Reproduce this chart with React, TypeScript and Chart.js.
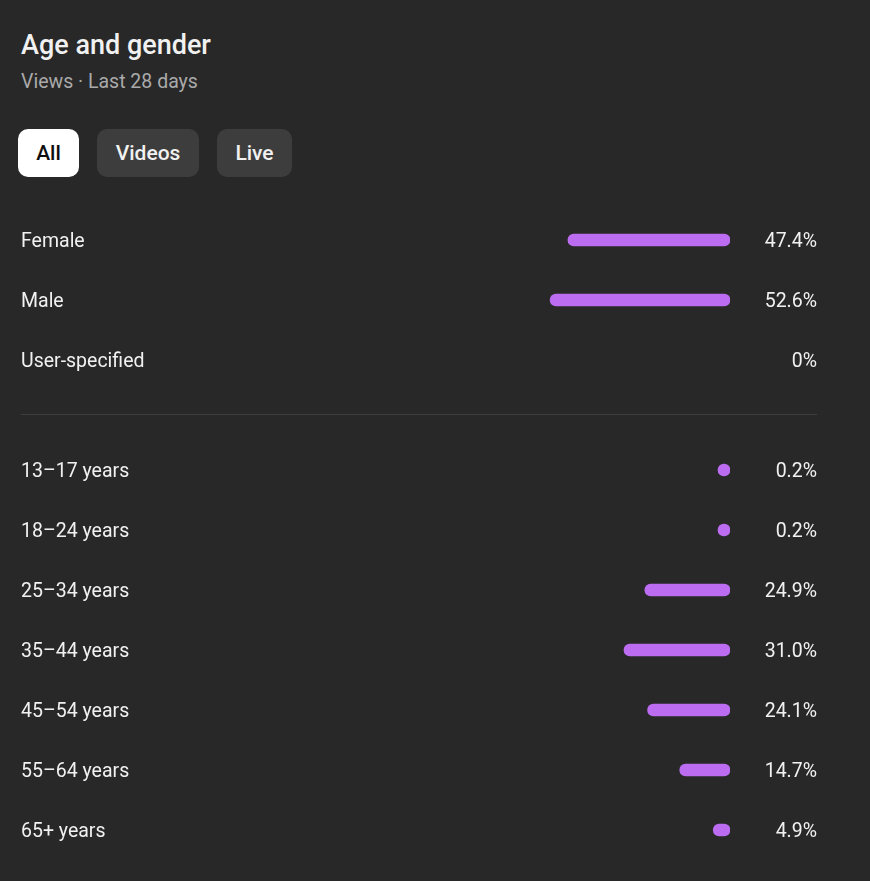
import React, { useEffect, useRef } from "react";
import { Chart, registerables } from "chart.js";
Chart.register(...registerables);

const genderLabels = ["Female", "Male", "User-specified"];
const genderValues = [47.4, 52.6, 0];
const genderText = ["47.4%", "52.6%", "0%"];

const ageLabels = ["13–17 years", "18–24 years", "25–34 years", "35–44 years", "45–54 years", "55–64 years", "65+ years"];
const ageValues = [0.2, 0.2, 24.9, 31.0, 24.1, 14.7, 4.9];
const ageText = ["0.2%", "0.2%", "24.9%", "31.0%", "24.1%", "14.7%", "4.9%"];

const tabs = ["All", "Videos", "Live"];
const tabLeft = [18, 97, 217];
const tabWidth = [61, 102, 75];

const PURPLE = "#bb6cf0";
const FONT = "Roboto, 'Noto Sans', sans-serif";

function BarBlock({ labels, values, texts, top, height }: { labels: string[]; values: number[]; texts: string[]; top: number; height: number }) {
  const ref = useRef<HTMLCanvasElement>(null);
  useEffect(() => {
    const textPlugin = {
      id: "rowText",
      afterDatasetsDraw(chart: any) {
        const ctx = chart.ctx;
        const meta = chart.getDatasetMeta(0);
        ctx.save();
        ctx.fillStyle = "#f1f1f1";
        ctx.font = `19.5px ${FONT}`;
        ctx.textBaseline = "alphabetic";
        meta.data.forEach((el: any, i: number) => {
          ctx.textAlign = "left";
          ctx.fillText(labels[i], 21, el.y + 7);
          ctx.textAlign = "right";
          ctx.fillText(texts[i], 817, el.y + 7);
        });
        ctx.restore();
      },
    };
    const chart = new Chart(ref.current!, {
      type: "bar",
      data: {
        labels,
        datasets: [
          {
            data: values,
            backgroundColor: (c: any) => (c.raw === 0 ? "rgba(0,0,0,0)" : PURPLE),
            borderRadius: 6,
            borderSkipped: false,
            barThickness: 12,
            minBarLength: 12,
          },
        ],
      },
      options: {
        indexAxis: "y",
        animation: false,
        responsive: false,
        maintainAspectRatio: false,
        layout: { padding: { left: 388, right: 140, top: 0, bottom: 0 } },
        plugins: { legend: { display: false }, tooltip: { enabled: false } },
        scales: {
          x: { display: false, reverse: true, min: 0, max: 100 },
          y: { display: false },
        },
      },
      plugins: [textPlugin],
    });
    return () => chart.destroy();
  }, []);
  return (
    <canvas
      ref={ref}
      width={870}
      height={height}
      style={{ position: "absolute", left: 0, top, width: 870, height }}
    />
  );
}

export default function App() {
  useEffect(() => {
    document.body.style.margin = "0";
    document.body.style.background = "#282828";
  }, []);
  return (
    <div style={{ position: "relative", width: 870, height: 881, background: "#282828", fontFamily: FONT, overflow: "hidden" }}>
      <div style={{ position: "absolute", left: 21, top: 29, fontSize: 27, fontWeight: 500, color: "#f1f1f1", lineHeight: "32px", whiteSpace: "nowrap" }}>
        Age and gender
      </div>
      <div style={{ position: "absolute", left: 21, top: 69, fontSize: 19.5, color: "#aaaaaa", lineHeight: "26px", whiteSpace: "nowrap" }}>
        Views · Last 28 days
      </div>
      {tabs.map((t, i) => (
        <div
          key={t}
          style={{
            position: "absolute",
            left: tabLeft[i],
            top: 129,
            width: tabWidth[i],
            height: 48,
            borderRadius: 10,
            background: i === 0 ? "#ffffff" : "#3d3d3d",
            color: i === 0 ? "#0f0f0f" : "#f1f1f1",
            fontSize: 21,
            fontWeight: 500,
            display: "flex",
            alignItems: "center",
            justifyContent: "center",
            boxSizing: "border-box",
          }}
        >
          {t}
        </div>
      ))}
      <BarBlock labels={genderLabels} values={genderValues} texts={genderText} top={210} height={180} />
      <div style={{ position: "absolute", left: 21, top: 414, width: 796, height: 1, background: "#3e3e3e" }} />
      <BarBlock labels={ageLabels} values={ageValues} texts={ageText} top={440} height={420} />
    </div>
  );
}
